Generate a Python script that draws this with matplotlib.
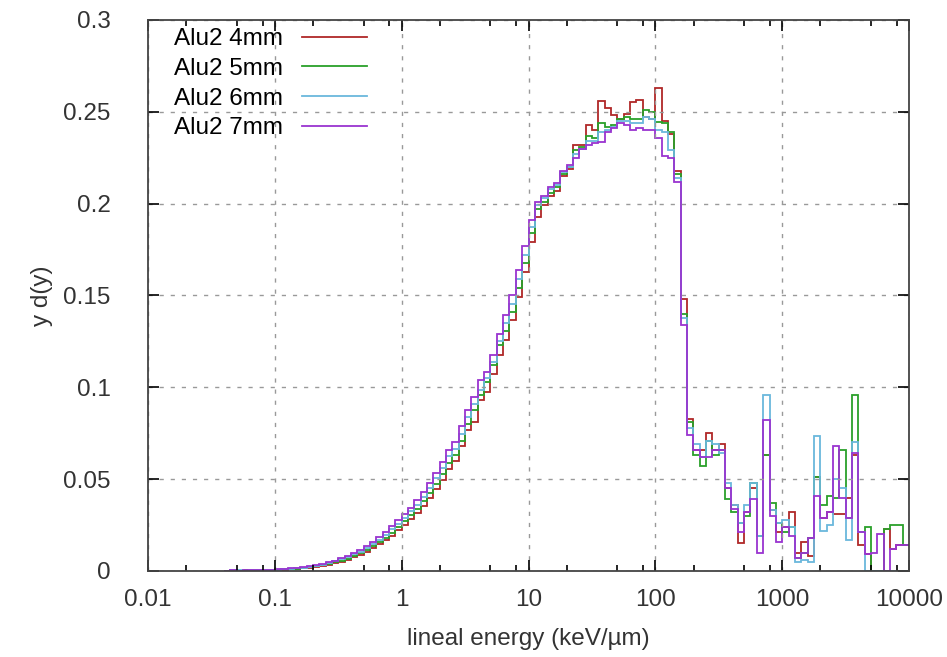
import matplotlib
matplotlib.use("Agg")
import matplotlib.pyplot as plt
from matplotlib.ticker import FixedLocator, NullFormatter
import numpy as np

# log bins, 20 per decade, first edge 10^(-28/20), last edge 10^4
bin_exp_start = -28
bin_exp_stop = 80
edges = 10 ** (np.arange(bin_exp_start, bin_exp_stop + 1) / 20)

labels = ["Alu2 4mm", "Alu2 5mm", "Alu2 6mm", "Alu2 7mm"]
colors = ["#b02828", "#2aa02a", "#6ab8dc", "#9a34d0"]

alu_4mm = [
    0.0000, 0.0003, 0.0002, 0.0002, 0.0002, 0.0004, 0.0004, 0.0005, 0.0006, 0.0008,
    0.0010, 0.0012, 0.0015, 0.0019, 0.0023, 0.0029, 0.0035, 0.0042, 0.0051, 0.0062,
    0.0074, 0.0088, 0.0105, 0.0124, 0.0145, 0.0167, 0.0193, 0.0221, 0.0252, 0.0283,
    0.0318, 0.0356, 0.0398, 0.0445, 0.0497, 0.0555, 0.0600, 0.0683, 0.0766, 0.0810,
    0.0930, 0.0976, 0.1070, 0.1178, 0.1260, 0.1365, 0.1490, 0.1630, 0.1790, 0.1930,
    0.1990, 0.2040, 0.2070, 0.2150, 0.2190, 0.2320, 0.2320, 0.2430, 0.2400, 0.2560,
    0.2520, 0.2480, 0.2460, 0.2490, 0.2555, 0.2565, 0.2470, 0.2460, 0.2630, 0.2450,
    0.2380, 0.2180, 0.1480, 0.0830, 0.0660, 0.0660, 0.0750, 0.0660, 0.0690, 0.0450,
    0.0360, 0.0150, 0.0320, 0.0450, 0.0190, 0.0630, 0.0330, 0.0210, 0.0240, 0.0320,
    0.0100, 0.0160, 0.0080, 0.0510, 0.0290, 0.0320, 0.0310, 0.0310, 0.0400, 0.0630,
    0.0140, 0.0090, 0.0000, 0.0000, 0.0230, 0.0120, 0.0140, 0.0140,
]

alu_5mm = [
    0.0000, 0.0002, 0.0001, 0.0004, 0.0003, 0.0004, 0.0005, 0.0006, 0.0007, 0.0009,
    0.0011, 0.0013, 0.0017, 0.0021, 0.0026, 0.0032, 0.0039, 0.0047, 0.0057, 0.0068,
    0.0082, 0.0097, 0.0115, 0.0135, 0.0157, 0.0181, 0.0209, 0.0239, 0.0270, 0.0303,
    0.0340, 0.0380, 0.0425, 0.0475, 0.0530, 0.0590, 0.0630, 0.0710, 0.0800, 0.0875,
    0.0960, 0.1030, 0.1120, 0.1230, 0.1305, 0.1410, 0.1540, 0.1675, 0.1840, 0.1970,
    0.2010, 0.2060, 0.2090, 0.2160, 0.2200, 0.2290, 0.2310, 0.2370, 0.2360, 0.2440,
    0.2420, 0.2430, 0.2460, 0.2470, 0.2460, 0.2460, 0.2510, 0.2500, 0.2445, 0.2440,
    0.2390, 0.2160, 0.1400, 0.0810, 0.0630, 0.0570, 0.0710, 0.0630, 0.0660, 0.0390,
    0.0320, 0.0260, 0.0300, 0.0480, 0.0190, 0.0630, 0.0370, 0.0260, 0.0210, 0.0240,
    0.0070, 0.0100, 0.0180, 0.0510, 0.0360, 0.0410, 0.0400, 0.0660, 0.0290, 0.0960,
    0.0215, 0.0240, 0.0000, 0.0000, 0.0230, 0.0250, 0.0250, 0.0140,
]

alu_6mm = [
    0.0000, 0.0004, 0.0003, 0.0002, 0.0003, 0.0005, 0.0005, 0.0007, 0.0008, 0.0010,
    0.0012, 0.0015, 0.0019, 0.0023, 0.0029, 0.0035, 0.0043, 0.0052, 0.0063, 0.0075,
    0.0090, 0.0106, 0.0125, 0.0147, 0.0170, 0.0196, 0.0226, 0.0258, 0.0290, 0.0324,
    0.0362, 0.0405, 0.0452, 0.0505, 0.0562, 0.0625, 0.0665, 0.0747, 0.0840, 0.0910,
    0.0985, 0.1050, 0.1140, 0.1250, 0.1350, 0.1455, 0.1590, 0.1720, 0.1875, 0.1990,
    0.2030, 0.2080, 0.2100, 0.2170, 0.2200, 0.2270, 0.2300, 0.2340, 0.2340, 0.2390,
    0.2400, 0.2420, 0.2450, 0.2450, 0.2440, 0.2440, 0.2470, 0.2460, 0.2400, 0.2390,
    0.2290, 0.2140, 0.1380, 0.0780, 0.0690, 0.0620, 0.0710, 0.0690, 0.0640, 0.0480,
    0.0360, 0.0260, 0.0360, 0.0480, 0.0190, 0.0960, 0.0330, 0.0260, 0.0280, 0.0240,
    0.0050, 0.0060, 0.0050, 0.0735, 0.0220, 0.0250, 0.0500, 0.0450, 0.0170, 0.0700,
    0.0215, 0.0000, 0.0000, 0.0000, 0.0000, 0.0000, 0.0000, 0.0000,
]

alu_7mm = [
    0.0000, 0.0006, 0.0002, 0.0003, 0.0004, 0.0006, 0.0006, 0.0008, 0.0009, 0.0011,
    0.0014, 0.0017, 0.0021, 0.0026, 0.0032, 0.0039, 0.0047, 0.0057, 0.0069, 0.0082,
    0.0098, 0.0116, 0.0136, 0.0159, 0.0184, 0.0212, 0.0243, 0.0277, 0.0310, 0.0345,
    0.0385, 0.0430, 0.0480, 0.0535, 0.0595, 0.0660, 0.0700, 0.0790, 0.0875, 0.0950,
    0.1040, 0.1086, 0.1178, 0.1288, 0.1395, 0.1500, 0.1640, 0.1770, 0.1910, 0.2010,
    0.2040, 0.2090, 0.2110, 0.2180, 0.2210, 0.2250, 0.2300, 0.2320, 0.2330, 0.2335,
    0.2390, 0.2410, 0.2440, 0.2430, 0.2400, 0.2410, 0.2400, 0.2400, 0.2360, 0.2260,
    0.2250, 0.2120, 0.1340, 0.0740, 0.0660, 0.0620, 0.0620, 0.0660, 0.0660, 0.0450,
    0.0340, 0.0210, 0.0320, 0.0390, 0.0100, 0.0820, 0.0300, 0.0160, 0.0240, 0.0190,
    0.0070, 0.0100, 0.0180, 0.0410, 0.0290, 0.0320, 0.0680, 0.0400, 0.0290, 0.0640,
    0.0215, 0.0090, 0.0096, 0.0200, 0.0000, 0.0120, 0.0140, 0.0140,
]

series = [alu_4mm, alu_5mm, alu_6mm, alu_7mm]

xticks = [0.01, 0.1, 1, 10, 100, 1000, 10000]
xticklabels = ["0.01", "0.1", "1", "10", "100", "1000", "10000"]
yticks = [0, 0.05, 0.1, 0.15, 0.2, 0.25, 0.3]
yticklabels = ["0", "0.05", "0.1", "0.15", "0.2", "0.25", "0.3"]

plt.rcParams["font.family"] = ["Liberation Sans", "DejaVu Sans"]
plt.rcParams["font.size"] = 17.5

fig = plt.figure(figsize=(9.47, 6.57), dpi=100)
ax = fig.add_axes([0.1563, 0.1309, 0.8036, 0.8387])

for vals, lab, col in zip(series, labels, colors):
    ax.stairs(vals, edges, baseline=None, color=col, lw=1.3, label=lab)

ax.set_xscale("log")
ax.set_xlim(0.01, 10000)
ax.set_ylim(0, 0.3)

ax.xaxis.set_major_locator(FixedLocator(xticks))
ax.set_xticklabels(xticklabels, color="#333333")
minor = [m * 10.0 ** e for e in range(-2, 4) for m in (2, 5, 8)]
ax.xaxis.set_minor_locator(FixedLocator(minor))
ax.xaxis.set_minor_formatter(NullFormatter())
ax.set_yticks(yticks)
ax.set_yticklabels(yticklabels, color="#333333")

ax.tick_params(which="both", direction="in", top=True, right=True, width=1.2)
ax.tick_params(which="major", length=8)
ax.tick_params(which="minor", length=4)
ax.tick_params(axis="x", which="major", pad=13)
ax.tick_params(axis="y", which="major", pad=27)

ax.grid(True, which="major", color="#999999", lw=1, linestyle=(0, (3, 5)))
for s in ax.spines.values():
    s.set_color("#444444")
    s.set_linewidth(1.3)

ax.set_xlabel("lineal energy (keV/\u00b5m)", color="#333333", labelpad=12)
ax.set_ylabel("y d(y)", color="#333333", labelpad=7)

ax.legend(loc="upper left", bbox_to_anchor=(0.022, 1.003), frameon=False,
          markerfirst=False, handlelength=2.7, handletextpad=0.75,
          labelspacing=0.32, borderaxespad=0)

fig.savefig("out.png", dpi=100)
